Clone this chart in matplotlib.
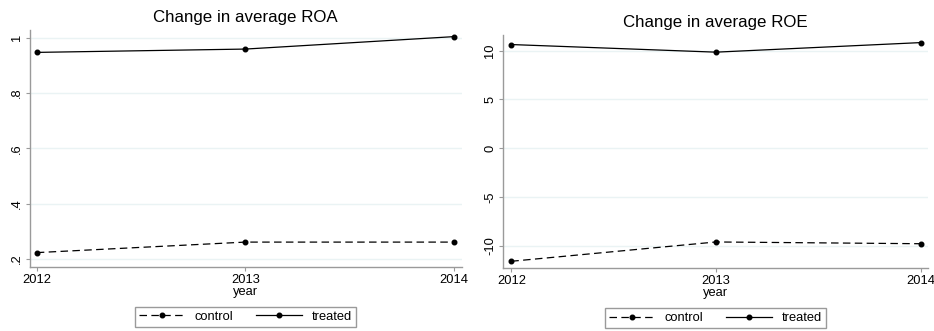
import matplotlib
matplotlib.use("Agg")
import matplotlib.pyplot as plt

plt.rcParams['font.family'] = ['Liberation Sans', 'DejaVu Sans']

years = [2012, 2013, 2014]

# average ROA by group
roa_control = [0.223, 0.261, 0.261]
roa_treated = [0.947, 0.959, 1.004]
roa_ticks = [0.2, 0.4, 0.6, 0.8, 1.0]
roa_labels = ['.2', '.4', '.6', '.8', '1']

# average ROE by group
roe_control = [-11.6, -9.62, -9.8]
roe_treated = [10.62, 9.84, 10.82]
roe_ticks = [-10, -5, 0, 5, 10]
roe_labels = ['-10', '-5', '0', '5', '10']

SPINE = '#9a9a9a'
GRID = '#eaf3f4'
FS = 9.3


def panel(fig, rect, title, control, treated, yticks, ylabels, ylim, xlim, legend_xy):
    ax = fig.add_axes(rect)
    ax.plot(years, control, color='black', lw=0.9, dashes=(6, 3.5),
            marker='o', ms=3.3, label='control')
    ax.plot(years, treated, color='black', lw=0.9,
            marker='o', ms=3.3, label='treated')
    ax.set_xlim(*xlim)
    ax.set_ylim(*ylim)
    ax.set_xticks(years)
    ax.set_xticklabels([str(y) for y in years], fontsize=FS)
    ax.set_yticks(yticks)
    ax.set_yticklabels(ylabels, fontsize=FS, rotation=90, va='center')
    ax.grid(axis='y', color=GRID, lw=1)
    ax.set_axisbelow(True)
    for s in ['top', 'right']:
        ax.spines[s].set_visible(False)
    for s in ['left', 'bottom']:
        ax.spines[s].set_color(SPINE)
        ax.spines[s].set_linewidth(1)
    ax.tick_params(direction='out', length=3, width=0.8, color=SPINE, pad=2)
    ax.set_xlabel('year', fontsize=FS, labelpad=0)
    ax.set_title(title, fontsize=12.2, pad=6)
    fig.legend(handles=ax.get_lines(), loc='center', bbox_to_anchor=legend_xy,
               ncol=2, frameon=True, fancybox=False, edgecolor=SPINE,
               fontsize=FS, handlelength=3.5, numpoints=1, columnspacing=1.8,
               borderpad=0.3, handletextpad=0.8, framealpha=1)
    return ax


fig = plt.figure(figsize=(9.34, 3.31), dpi=100)

panel(fig, [0.0316, 0.1934, 0.463, 0.716], 'Change in average ROA',
      roa_control, roa_treated, roa_ticks, roa_labels,
      (0.171, 1.028), (2011.965, 2014.038), (0.2628, 0.0423))

panel(fig, [0.5389, 0.1903, 0.4547, 0.704], 'Change in average ROE',
      roe_control, roe_treated, roe_ticks, roe_labels,
      (-12.29, 11.6), (2011.961, 2014.036), (0.766, 0.039))

fig.savefig('out.png', dpi=100)
